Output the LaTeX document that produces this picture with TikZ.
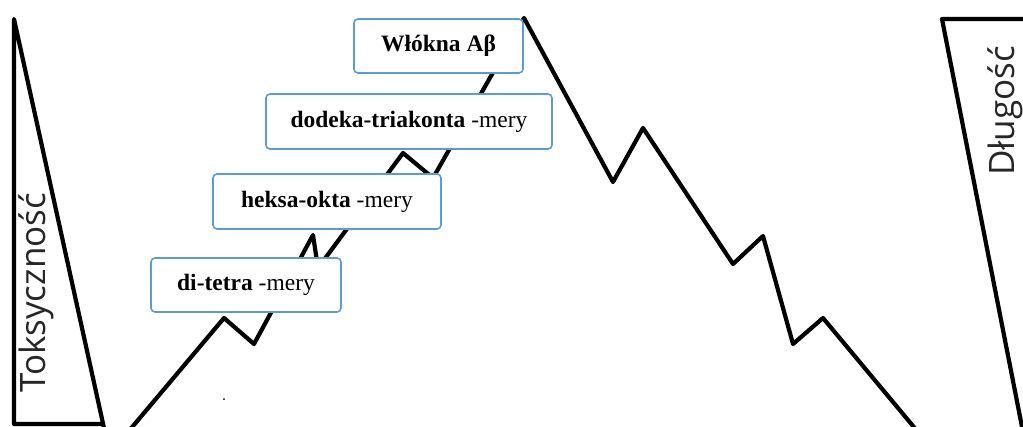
\documentclass[tikz,border=0pt]{standalone}
\usepackage{fontspec}
\setmainfont{Liberation Serif}
\newfontfamily\labelsans{Open Sans}
\definecolor{boxblue}{RGB}{91,155,213}
\tikzset{
  zig/.style={line width=4.2pt, line join=round, black},
  tri/.style={line width=4.2pt, line join=round, black},
  stagebox/.style={draw=boxblue, line width=1.6pt, fill=white, rounded corners=4pt,
    inner sep=0pt, align=center, font=\fontsize{23.5}{28}\selectfont},
  sidelabel/.style={rotate=90, inner sep=0pt, font=\labelsans\fontsize{35}{40}\selectfont, text=black!85}
}
\begin{document}
\begin{tikzpicture}[x=1pt,y=-1pt]
\useasboundingbox (0,0) rectangle (1023,426);
% side triangles
\draw[tri] (104,428) -- (14,19) -- (14,424) -- (104,424);
\draw[tri] (1040,19) -- (942,19) -- (1023,432);
\node[sidelabel, anchor=base west] (tox) at (45,393) {Toksyczność};
\node[sidelabel, anchor=base west] (len) at (1014,176) {Długość};
% zigzag
\coordinate (z0) at (128,432);
\coordinate (z1) at (224,318);
\coordinate (z2) at (254,344);
\coordinate (z3) at (313,235);
\coordinate (z4) at (318,268);
\coordinate (z5) at (403,153);
\coordinate (z6) at (433,178);
\coordinate (z7) at (524,18);
\coordinate (z8) at (613,182);
\coordinate (z9) at (643,128);
\coordinate (z10) at (733,264);
\coordinate (z11) at (763,236);
\coordinate (z12) at (793,344);
\coordinate (z13) at (823,318);
\coordinate (z14) at (918,432);
\draw[zig] (z0) -- (z1) -- (z2) -- (z3) -- (z4) -- (z5) -- (z6) -- (z7) -- (z8) -- (z9) -- (z10) -- (z11) -- (z12) -- (z13) -- (z14);
\fill (224,399) circle (1pt);
% boxes
\node[stagebox, minimum width=169pt, minimum height=54pt] (fib) at (438.5,46) {\textbf{Włókna Aβ}};
\node[stagebox, minimum width=286pt, minimum height=55pt] (dod) at (409,121.5) {\textbf{dodeka-triakonta} -mery};
\node[stagebox, minimum width=228pt, minimum height=55pt] (hek) at (327,201.5) {\textbf{heksa-okta} -mery};
\node[stagebox, minimum width=190pt, minimum height=54pt] (dit) at (246,285) {\textbf{di-tetra} -mery};
\end{tikzpicture}
\end{document}
